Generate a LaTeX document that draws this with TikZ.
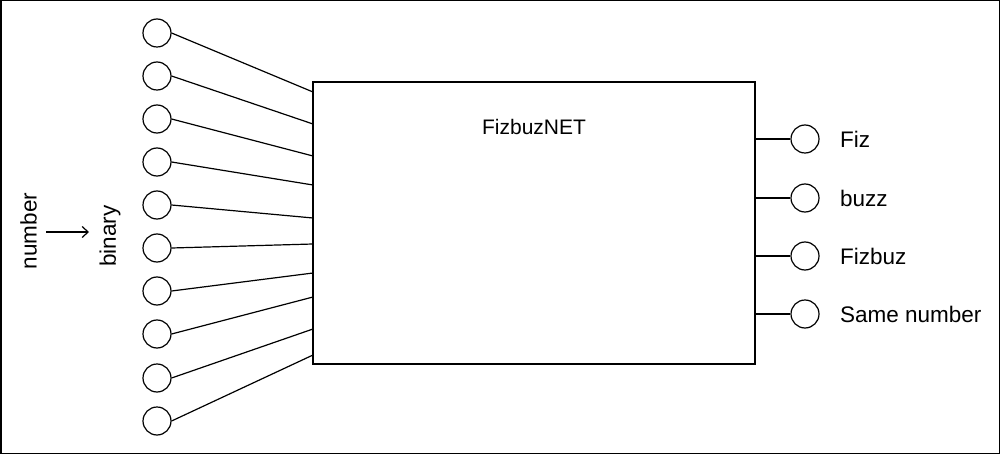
\documentclass[tikz,border=0pt]{standalone}
\usepackage{fontspec}
\setmainfont{Liberation Sans}
\usetikzlibrary{positioning,arrows.meta}

\begin{document}
\begin{tikzpicture}[x=1pt,y=-1pt,line width=1.2pt,
    neuron/.style={draw,circle,minimum size=28pt,inner sep=0pt},
    lbl/.style={font=\fontsize{22.5}{27}\selectfont,inner sep=0pt},
    >={Straight Barb[length=6pt,width=11pt]}]
    \useasboundingbox (0,0) rectangle (1000,454);
    \draw[line width=1.5pt] (0.75,0.75) rectangle (999.25,453.25);
    % Network box
    \node[draw,minimum width=442pt,minimum height=282pt,inner sep=0pt] (net) at (534,223) {};
    \node[lbl,font=\fontsize{21}{25}\selectfont] (netname) at (534,127) {FizbuzNET};
    % Input neurons (binary digits)
    \node[neuron] (i1) at (157,33) {};
    \node[neuron] (i2) at (157,76) {};
    \node[neuron] (i3) at (157,119) {};
    \node[neuron] (i4) at (157,162) {};
    \node[neuron] (i5) at (157,205) {};
    \node[neuron] (i6) at (157,248) {};
    \node[neuron] (i7) at (157,291) {};
    \node[neuron] (i8) at (157,334) {};
    \node[neuron] (i9) at (157,378) {};
    \node[neuron] (i10) at (157,421) {};
    % Attach points on the left side of the box
    \coordinate (w1) at (313,92);
    \coordinate (w2) at (313,124);
    \coordinate (w3) at (313,156);
    \coordinate (w4) at (313,185);
    \coordinate (w5) at (313,218);
    \coordinate (w6) at (313,244);
    \coordinate (w7) at (313,273);
    \coordinate (w8) at (313,297);
    \coordinate (w9) at (313,329);
    \coordinate (w10) at (313,355);
    % Input wires
    \draw (i1.east) -- (w1);
    \draw (i2.east) -- (w2);
    \draw (i3.east) -- (w3);
    \draw (i4.east) -- (w4);
    \draw (i5.east) -- (w5);
    \draw (i6.east) -- (w6);
    \draw (i7.east) -- (w7);
    \draw (i8.east) -- (w8);
    \draw (i9.east) -- (w9);
    \draw (i10.east) -- (w10);
    % number -> binary
    \node[lbl,rotate=90] (num) at (28.5,231) {number};
    \node[lbl,rotate=90] (bin) at (110,236) {binary};
    \coordinate (a0) at (46,232);
    \coordinate (a1) at (89,232);
    \draw[->] (a0) -- (a1);
    % Output neurons
    \node[neuron] (o1) at (805,139) {};
    \node[neuron] (o2) at (805,198) {};
    \node[neuron] (o3) at (805,256) {};
    \node[neuron] (o4) at (805,314) {};
    \draw (net.east |- o1) -- (o1);
    \draw (net.east |- o2) -- (o2);
    \draw (net.east |- o3) -- (o3);
    \draw (net.east |- o4) -- (o4);
    \node[lbl,right=20pt of o1] (fiz) {Fiz};
    \node[lbl,right=20pt of o2] (buzz) {buzz};
    \node[lbl,right=20pt of o3] (fizbuz) {Fizbuz};
    \node[lbl,right=20pt of o4] (same) {Same number};
\end{tikzpicture}
\end{document}
